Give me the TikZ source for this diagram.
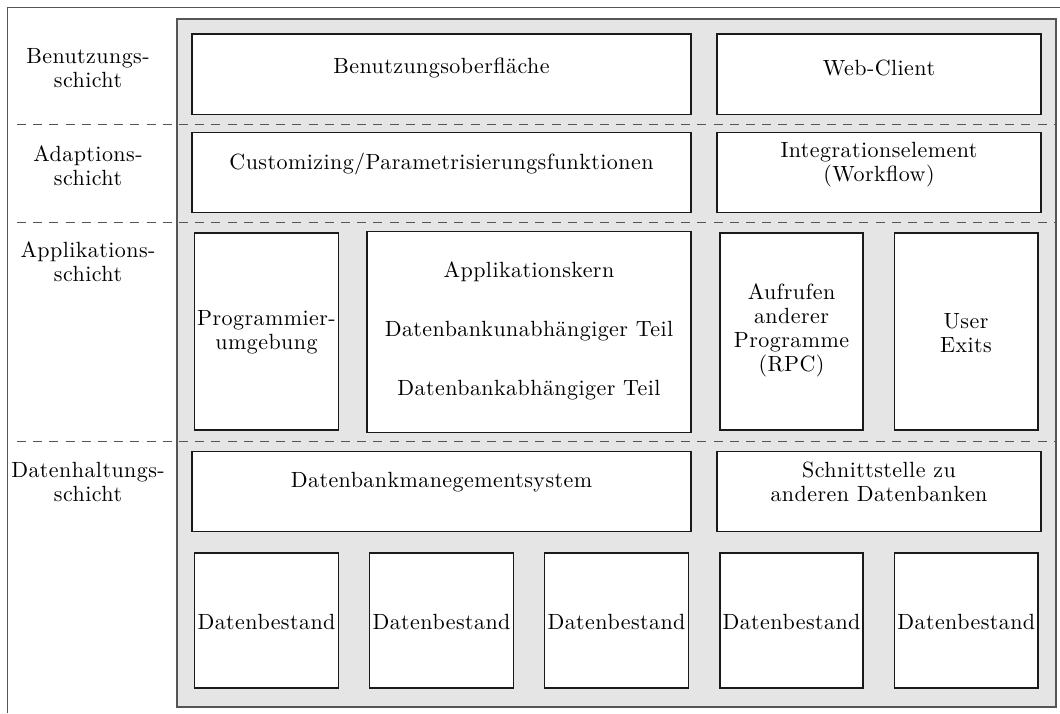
\documentclass[tikz,border=0pt]{standalone}
\usepackage{fontspec}
\setmainfont{Latin Modern Roman}[LetterSpace=2]
\usetikzlibrary{fit}
\definecolor{panelgray}{HTML}{E5E5E5}
\definecolor{rulegray}{HTML}{555555}
\definecolor{boxline}{HTML}{1A1A1A}
\begin{document}
\fontsize{11}{12}\selectfont
\begin{tikzpicture}[x=0.5pt,y=-0.5pt,
  panel/.style={draw=rulegray,fill=panelgray,line width=0.6pt,inner sep=0pt},
  box/.style={draw=boxline,fill=white,line width=0.65pt,inner sep=0pt},
  layerline/.style={draw=rulegray,line width=0.6pt,dash pattern=on 4.5pt off 3.6pt},
  txt/.style={align=center,inner sep=0pt}]
\useasboundingbox (0,0) rectangle (1060,713);
% outer frame (open to the right and bottom)
\coordinate (fa) at (7.5,713);
\coordinate (fb) at (7.5,7.5);
\coordinate (fc) at (1060,7.5);
\draw[rulegray,line width=0.7pt] (fa) -- (fb) -- (fc);
% grey system panel
\node[panel,fit={(177,19)(1056,707)}] (sys) {};
% layer separators
\coordinate (l1a) at (17,124.5); \coordinate (l1b) at (1056,124.5);
\coordinate (l2a) at (17,222.5); \coordinate (l2b) at (1056,222.5);
\coordinate (l3a) at (17,441.5); \coordinate (l3b) at (1056,441.5);
\draw[layerline] (l1a) -- (l1b);
\draw[layerline] (l2a) -- (l2b);
\draw[layerline] (l3a) -- (l3b);
% layer names
\node[txt] (ln1) at (88,68) {Benutzungs-\\schicht};
\node[txt] (ln2) at (88,166) {Adaptions-\\schicht};
\node[txt] (ln3) at (88,262) {Applikations-\\schicht};
\node[txt] (ln4) at (88,482) {Datenhaltungs-\\schicht};
% user interface layer
\node[box,fit={(192,34)(691,114.5)}] (ui) {};
\node[box,fit={(717,34)(1041,114.5)}] (web) {};
\node[txt] at (441.5,68) {Benutzungsoberfläche};
\node[txt] at (879,68) {Web-Client};
% adaption layer
\node[box,fit={(192,132.5)(691,212.5)}] (cust) {};
\node[box,fit={(717,132.5)(1041,212.5)}] (integ) {};
\node[txt] at (441.5,164) {Customizing/Parametrisierungsfunktionen};
\node[txt] at (879,165) {Integrationselement\\(Workflow)};
% application layer
\node[box,fit={(194.5,233)(338.5,430)}] (prog) {};
\node[box,fit={(367,231.5)(691,432.5)}] (core) {};
\node[box,fit={(720,233)(863,430)}] (rpc) {};
\node[box,fit={(894.5,233)(1038,430)}] (exits) {};
\node[txt] at (266.5,332) {Programmier-\\umgebung};
\node[txt] at (529,272) {Applikationskern};
\node[txt] at (529,331) {Datenbankunabhängiger Teil};
\node[txt] at (529,390) {Datenbankabhängiger Teil};
\node[txt] at (791.5,330) {Aufrufen\\anderer\\Programme\\(RPC)};
\node[txt] at (966,333) {User\\Exits};
% data layer
\node[box,fit={(192,451.5)(691,531.5)}] (dbms) {};
\node[box,fit={(717,451.5)(1041,531.5)}] (iface) {};
\node[txt] at (441.5,482) {Datenbankmanegementsystem};
\node[txt] at (879,482) {Schnittstelle zu\\anderen Datenbanken};
\node[box,fit={(194.5,553)(338.5,688)}] (d1) {};
\node[box,fit={(369.5,553)(513.5,688)}] (d2) {};
\node[box,fit={(544.5,553)(688.5,688)}] (d3) {};
\node[box,fit={(720,553)(863,688)}] (d4) {};
\node[box,fit={(894.5,553)(1038,688)}] (d5) {};
\foreach \n in {d1,d2,d3,d4,d5}
  \node[txt] at ([yshift=-0.5]\n.center) {Datenbestand};
\end{tikzpicture}
\end{document}
